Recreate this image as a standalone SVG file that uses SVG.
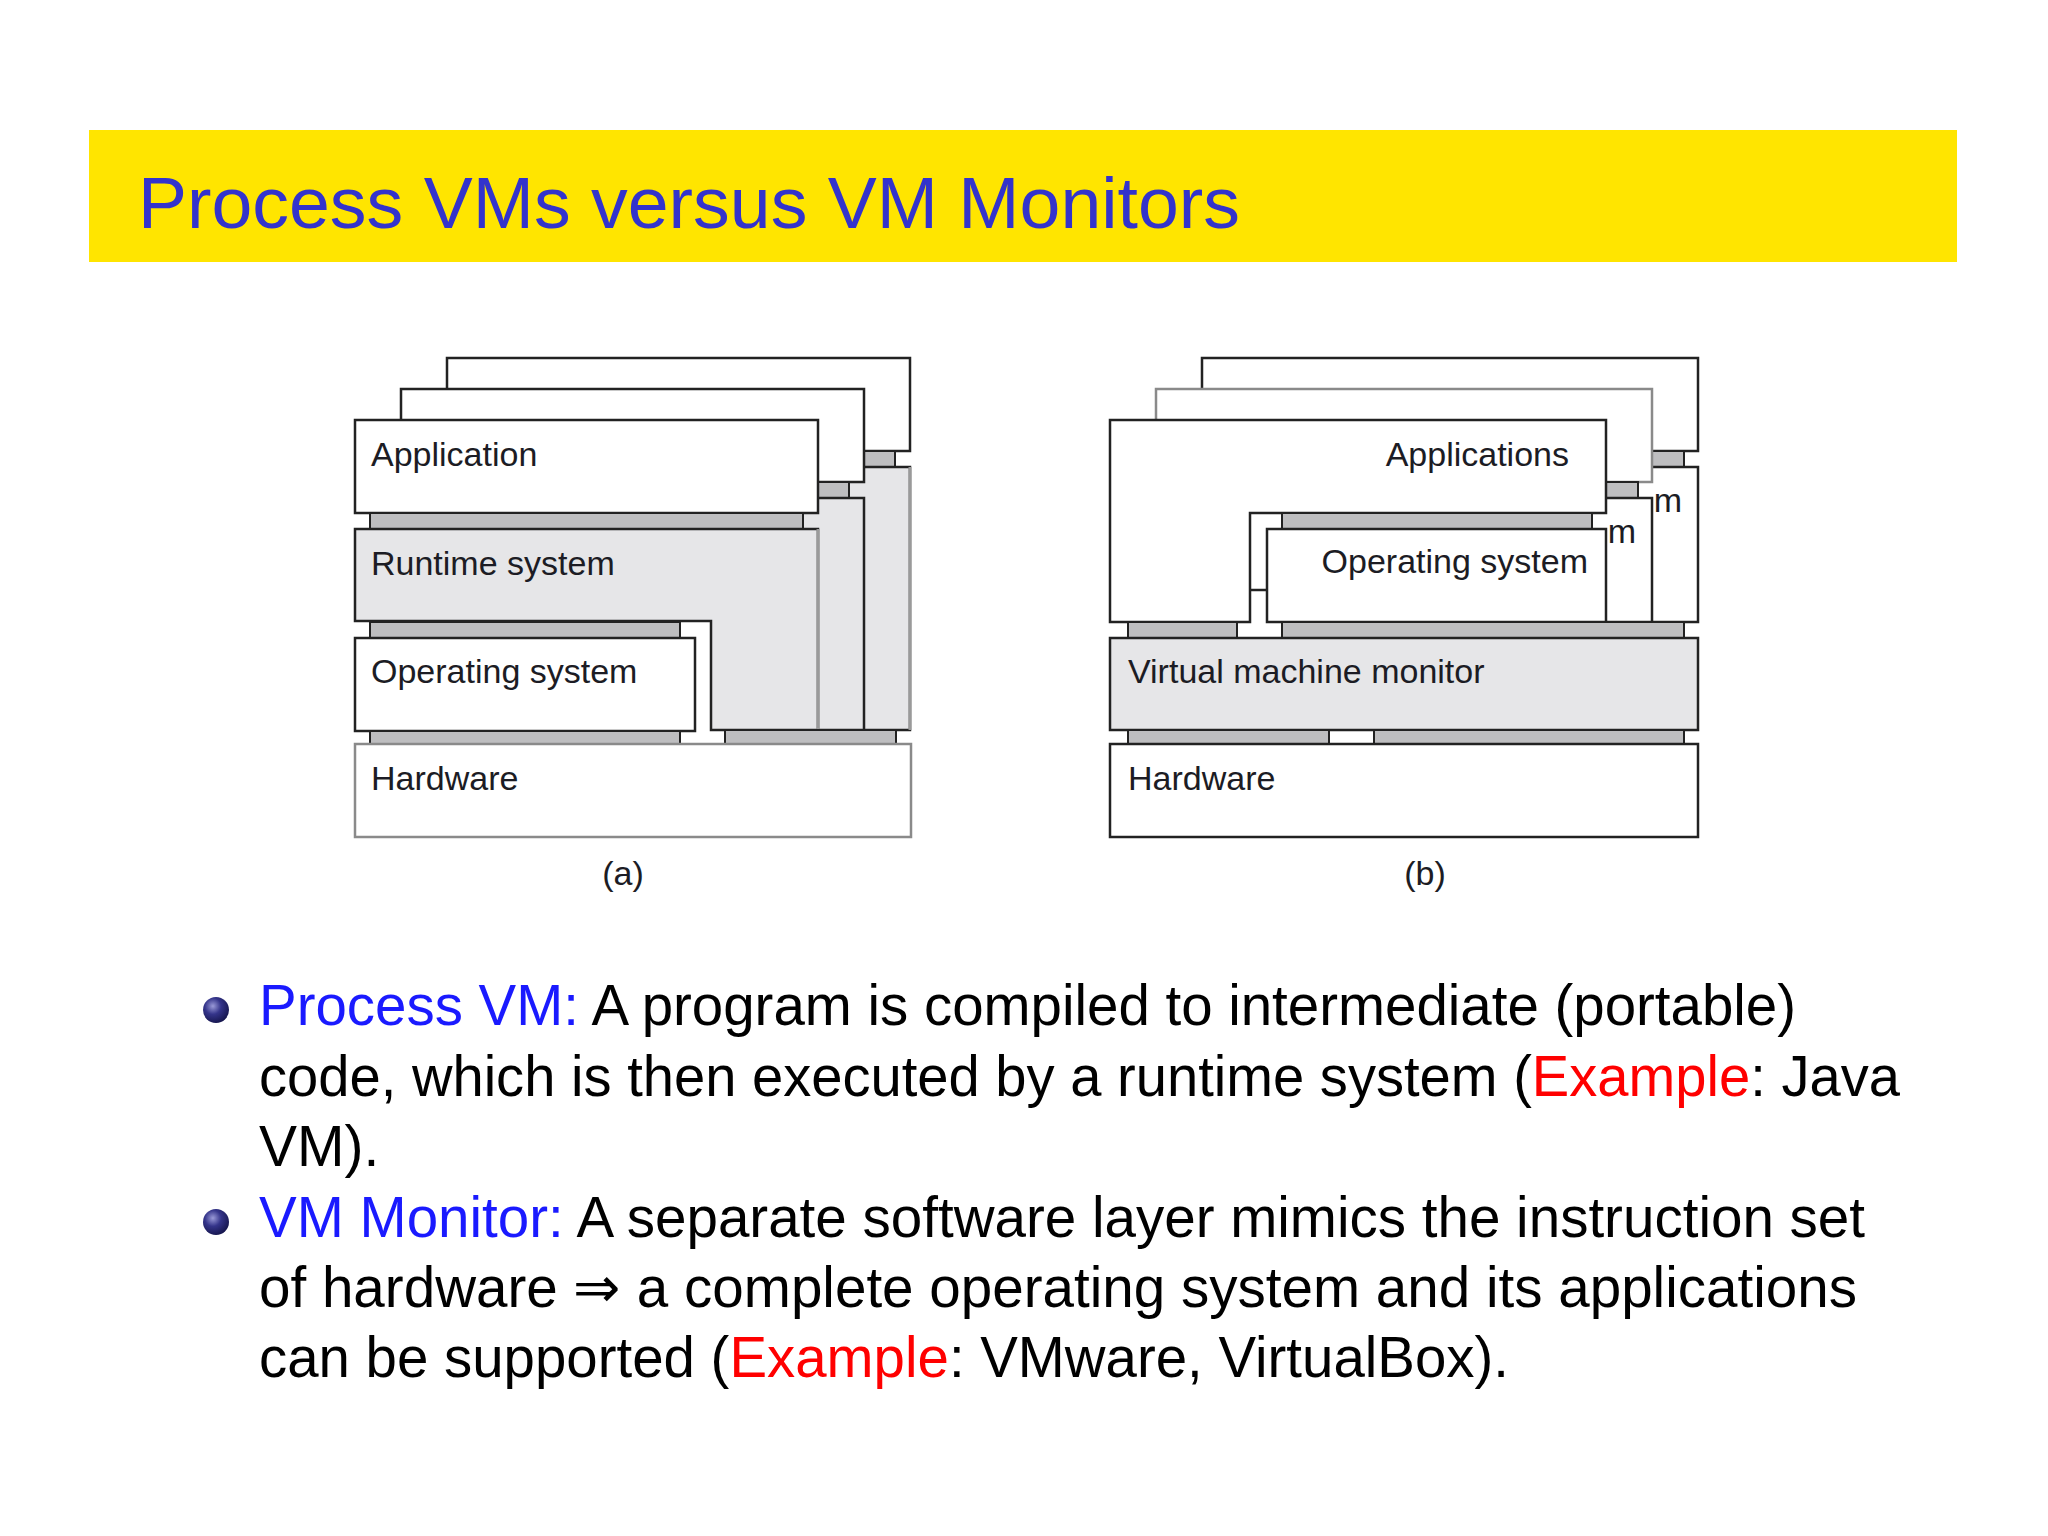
<svg xmlns="http://www.w3.org/2000/svg" width="2048" height="1536" viewBox="0 0 2048 1536">
<defs>
<radialGradient id="ball" cx="0.38" cy="0.35" r="0.7">
<stop offset="0" stop-color="#9a9ad8"/>
<stop offset="0.45" stop-color="#34348a"/>
<stop offset="1" stop-color="#14144a"/>
</radialGradient>
<style>
.box{fill:#ffffff;stroke:#222;stroke-width:2.5}
.boxg{fill:#ffffff;stroke:#8a8a8a;stroke-width:2.5}
.rt{fill:#e6e6e8;stroke:#222;stroke-width:2.5;stroke-linejoin:miter}
.bar{fill:#bebec0;stroke:#222;stroke-width:2}
.edge{stroke:#9a9a9a;stroke-width:3;fill:none}
.lbl{font-family:"Liberation Sans",Arial,Helvetica,sans-serif;font-size:34px;fill:#1c1c24}
.body{font-family:"Liberation Sans",Arial,Helvetica,sans-serif;font-size:57px;fill:#000}
.key{fill:#1a1aff}
.ex{fill:#ff0000}
</style>
</defs>
<rect width="2048" height="1536" fill="#ffffff"/>

<g id="title">
<rect x="89" y="130" width="1868" height="132" fill="#ffe500"/>
<text x="138" y="228" font-family="Liberation Sans, Arial, sans-serif" font-size="73" fill="#3333cc" textLength="1102" lengthAdjust="spacingAndGlyphs">Process VMs versus VM Monitors</text>
</g>

<!-- Diagram (a) -->
<g id="diagram-a">
<g id="a-copy3">
<rect class="box" x="447" y="358" width="463" height="93"/>
<rect class="bar" x="462" y="451" width="433" height="16"/>
<polygon class="rt" points="447,467 910,467 910,730 803,730 803,559 447,559"/>
<line class="edge" x1="910" y1="467" x2="910" y2="730"/>
</g>
<g id="a-copy2">
<rect class="box" x="401" y="389" width="463" height="93"/>
<rect class="bar" x="416" y="482" width="433" height="16"/>
<polygon class="rt" points="401,498 864,498 864,730 757,730 757,590 401,590"/>
</g>
<g id="a-application">
<rect class="box" x="355" y="420" width="463" height="93"/>
<text class="lbl" x="371" y="466">Application</text>
</g>
<rect class="bar" x="370" y="513" width="433" height="16"/>
<g id="a-runtime">
<polygon class="rt" points="355,529 818,529 818,730 711,730 711,621 355,621"/>
<line class="edge" x1="818" y1="529" x2="818" y2="730"/>
<text class="lbl" x="371" y="575">Runtime system</text>
</g>
<rect class="bar" x="370" y="622" width="310" height="16"/>
<g id="a-os">
<rect class="box" x="355" y="638" width="340" height="93"/>
<text class="lbl" x="371" y="683">Operating system</text>
</g>
<rect class="bar" x="370" y="731" width="310" height="13"/>
<rect class="bar" x="725" y="730" width="171" height="14"/>
<g id="a-hardware">
<rect class="boxg" x="355" y="744" width="556" height="93"/>
<text class="lbl" x="371" y="790">Hardware</text>
</g>
<text class="lbl" x="623" y="885" text-anchor="middle">(a)</text>
</g>

<!-- Diagram (b) -->
<g id="diagram-b">
<g id="b-copy3">
<rect class="box" x="1202" y="358" width="496" height="93"/>
<rect class="bar" x="1374" y="451" width="310" height="16"/>
<rect class="box" x="1359" y="467" width="339" height="155"/>
<text class="lbl" x="1682" y="512" text-anchor="end">m</text>
</g>
<g id="b-copy2">
<rect class="boxg" x="1156" y="389" width="496" height="93"/>
<rect class="bar" x="1328" y="482" width="310" height="16"/>
<rect class="box" x="1313" y="498" width="339" height="124"/>
<text class="lbl" x="1636" y="543" text-anchor="end">m</text>
</g>
<g id="b-applications">
<polygon class="box" points="1110,420 1606,420 1606,513 1250,513 1250,622 1110,622"/>
<text class="lbl" x="1569" y="466" text-anchor="end">Applications</text>
</g>
<rect class="bar" x="1282" y="513" width="310" height="16"/>
<g id="b-os">
<rect class="box" x="1267" y="529" width="339" height="93"/>
<line x1="1250" y1="590" x2="1267" y2="590" stroke="#222" stroke-width="2.5"/>
<text class="lbl" x="1588" y="573" text-anchor="end">Operating system</text>
</g>
<rect class="bar" x="1128" y="622" width="109" height="16"/>
<rect class="bar" x="1282" y="622" width="402" height="16"/>
<g id="b-vmm">
<rect class="rt" x="1110" y="638" width="588" height="92"/>
<text class="lbl" x="1128" y="683">Virtual machine monitor</text>
</g>
<rect class="bar" x="1128" y="730" width="201" height="14"/>
<rect class="bar" x="1374" y="730" width="310" height="14"/>
<g id="b-hardware">
<rect class="box" x="1110" y="744" width="588" height="93"/>
<text class="lbl" x="1128" y="790">Hardware</text>
</g>
<text class="lbl" x="1425" y="885" text-anchor="middle">(b)</text>
</g>

<g id="bullets">
<circle cx="216" cy="1010" r="13" fill="url(#ball)"/>
<text class="body" x="259" y="1025" textLength="1537" lengthAdjust="spacingAndGlyphs"><tspan class="key">Process VM:</tspan> A program is compiled to intermediate (portable)</text>
<text class="body" x="259" y="1096" textLength="1641" lengthAdjust="spacingAndGlyphs">code, which is then executed by a runtime system (<tspan class="ex">Example</tspan>: Java</text>
<text class="body" x="259" y="1166">VM).</text>
<circle cx="216" cy="1222" r="13" fill="url(#ball)"/>
<text class="body" x="259" y="1237" textLength="1606" lengthAdjust="spacingAndGlyphs"><tspan class="key">VM Monitor:</tspan> A separate software layer mimics the instruction set</text>
<text class="body" x="259" y="1307" textLength="1598" lengthAdjust="spacingAndGlyphs">of hardware ⇒ a complete operating system and its applications</text>
<text class="body" x="259" y="1377" textLength="1250" lengthAdjust="spacingAndGlyphs">can be supported (<tspan class="ex">Example</tspan>: VMware, VirtualBox).</text>
</g>
</svg>
